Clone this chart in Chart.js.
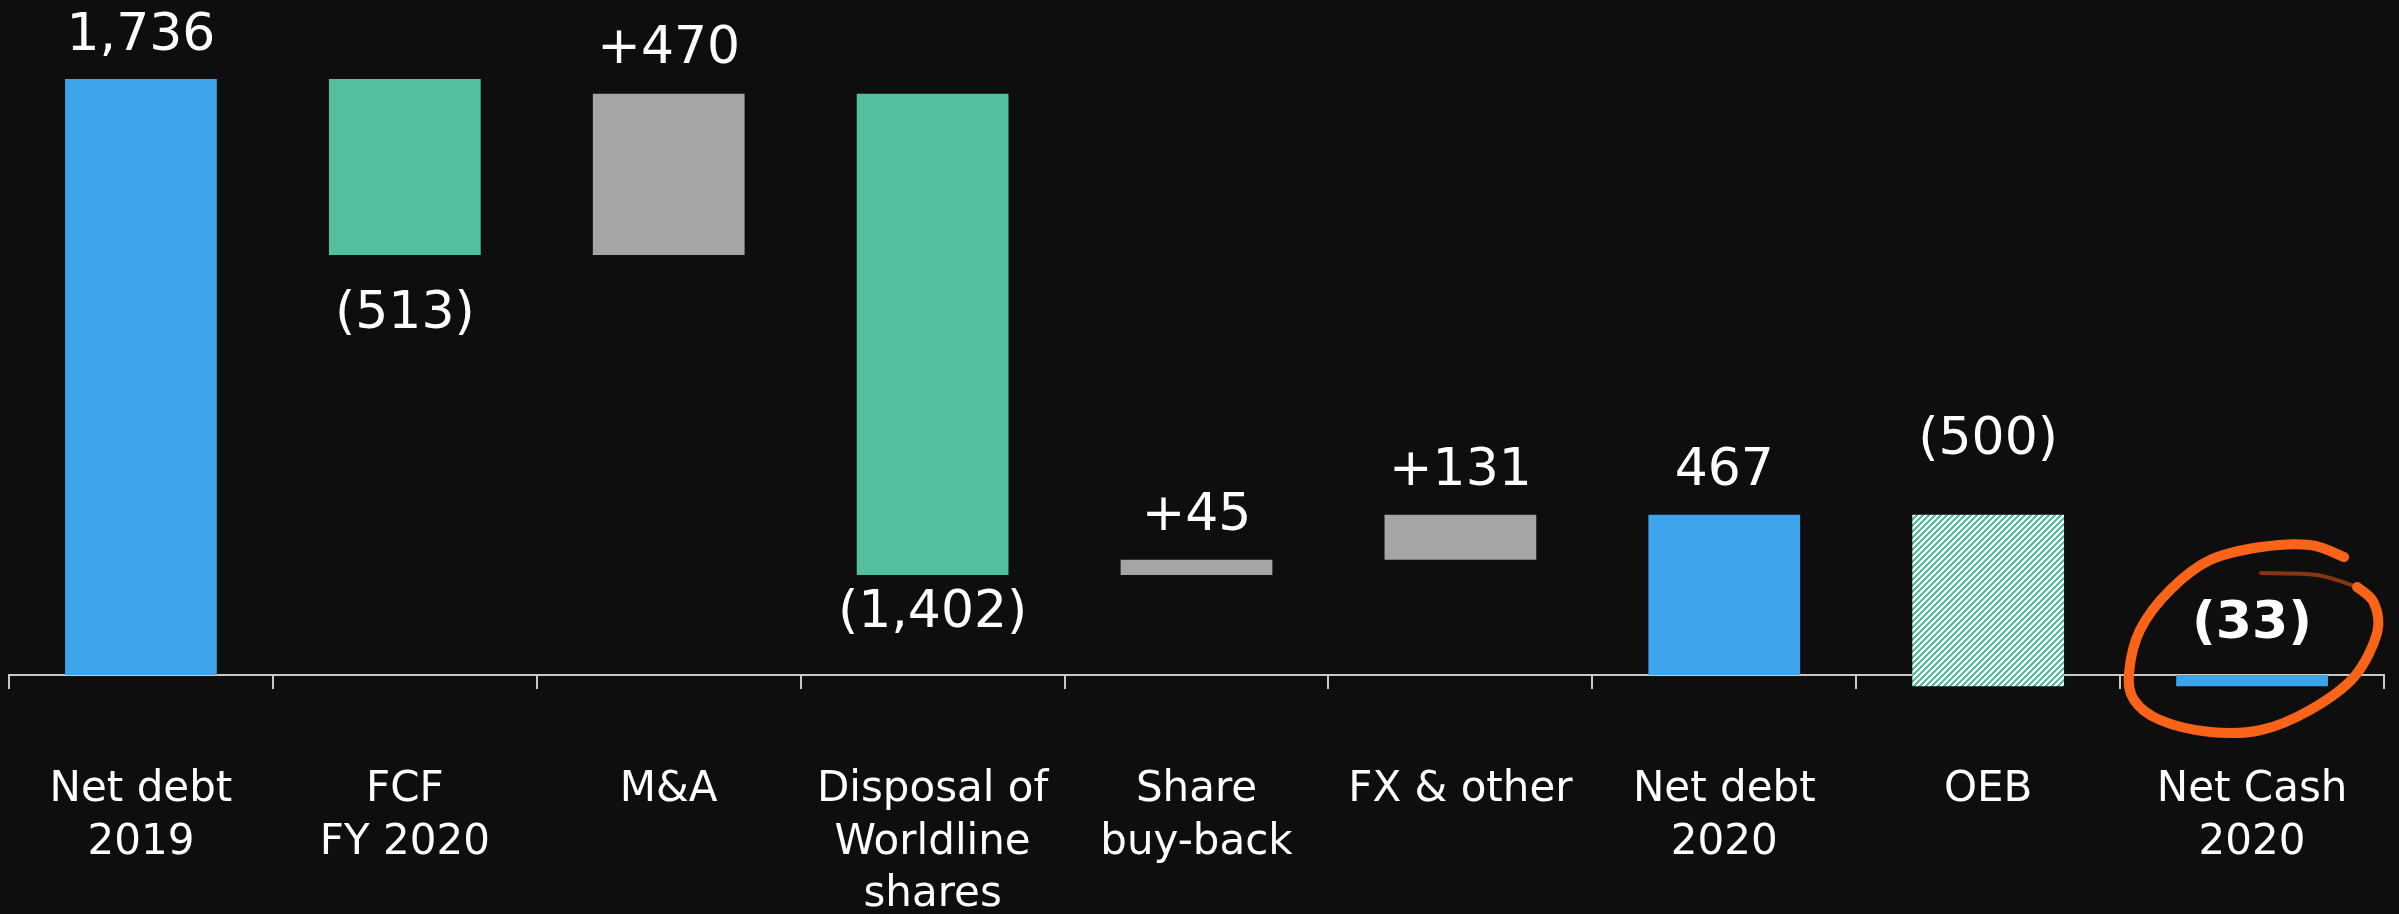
<!DOCTYPE html>
<html>
<head>
<meta charset="utf-8">
<script src="https://cdn.jsdelivr.net/npm/chart.js@4/dist/chart.umd.min.js"></script>
<style>
  html, body { margin: 0; padding: 0; background: #0e0e0e; }
  canvas { display: block; }
</style>
</head>
<body>
<canvas id="c" width="2399" height="914"></canvas>
<script>
// ---- data ----
const categories = [
  ['Net debt', '2019'],
  ['FCF', 'FY 2020'],
  ['M&A'],
  ['Disposal of', 'Worldline', 'shares'],
  ['Share', 'buy-back'],
  ['FX & other'],
  ['Net debt', '2020'],
  ['OEB'],
  ['Net Cash', '2020']
];
const barStarts = [0, 1736, 1223, 1693, 291, 336, 0, 467, 0];
const barEnds   = [1736, 1223, 1693, 291, 336, 467, 467, -33, -33];
const barKinds  = ['total', 'decrease', 'increase', 'decrease', 'increase', 'increase', 'total', 'pending', 'total'];
const valueLabels = ['1,736', '(513)', '+470', '(1,402)', '+45', '+131', '467', '(500)', '(33)'];

// ---- styles ----
const BG = '#0e0e0e';
const BLUE = '#3da4eb';
const GREEN = '#53bf9f';
const GREY = '#a5a5a5';
const AXIS = '#c8c8c8';
const FONT = "'DejaVu Sans', Verdana, sans-serif";

function hatchPattern() {
  const p = document.createElement('canvas');
  p.width = 6; p.height = 6;
  const g = p.getContext('2d');
  g.fillStyle = '#ffffff';
  g.fillRect(0, 0, 6, 6);
  g.fillStyle = GREEN;
  for (let x = 0; x < 6; x++) for (let y = 0; y < 6; y++) {
    if ((x + y) % 6 < 3) g.fillRect(x, y, 1, 1);
  }
  return g.createPattern(p, 'repeat');
}
const pattern = hatchPattern();
const kindColor = { total: BLUE, decrease: GREEN, increase: GREY, pending: pattern };

// label placement (style): side and baseline gap from bar edge
const labelSide = ['above', 'below', 'above', 'below', 'above', 'above', 'above', 'above', 'above'];
const labelGap  = [29, 73, 31, 52, 30, 30, 30, 61, 37];
const labelBold = [false, false, false, false, false, false, false, false, true];

const bgPlugin = {
  id: 'bg',
  beforeDraw(chart) {
    const ctx = chart.ctx;
    ctx.save();
    ctx.fillStyle = BG;
    ctx.fillRect(0, 0, chart.width, chart.height);
    ctx.restore();
  }
};

const labelPlugin = {
  id: 'valueLabels',
  afterDatasetsDraw(chart) {
    const ctx = chart.ctx;
    const meta = chart.getDatasetMeta(0);
    ctx.save();
    ctx.fillStyle = '#ffffff';
    ctx.textAlign = 'center';
    ctx.textBaseline = 'alphabetic';
    meta.data.forEach((bar, i) => {
      const top = Math.min(bar.y, bar.base);
      const bottom = Math.max(bar.y, bar.base);
      ctx.font = (labelBold[i] ? 'bold ' : '') + '52px ' + FONT;
      const y = labelSide[i] === 'above' ? top - labelGap[i] : bottom + labelGap[i];
      ctx.fillText(valueLabels[i], bar.x, y);
    });
    ctx.restore();
  }
};

// hand-drawn circle around last bar (annotation)
const circlePlugin = {
  id: 'circle',
  afterDraw(chart) {
    const meta = chart.getDatasetMeta(0);
    const last = meta.data[meta.data.length - 1];
    const cx = last.x;
    const cy = chart.scales.y.getPixelForValue(0);
    const main = [[92,-118],[58,-130],[9,-128],[-42,-115],[-82,-85],[-112,-45],[-123,-2],[-118,25],[-92,45],[-42,57],[9,55],[58,35],[102,2],[125,-42],[122,-72],[105,-88]];
    const trail = [[105,-88],[65,-100],[9,-102]];
    const ctx = chart.ctx;
    function smooth(pts) {
      const P = pts.map(p => [cx + p[0], cy + p[1]]);
      ctx.beginPath();
      ctx.moveTo(P[0][0], P[0][1]);
      for (let i = 0; i < P.length - 1; i++) {
        const p0 = P[i - 1] || P[i], p1 = P[i], p2 = P[i + 1], p3 = P[i + 2] || P[i + 1];
        const c1 = [p1[0] + (p2[0] - p0[0]) / 6, p1[1] + (p2[1] - p0[1]) / 6];
        const c2 = [p2[0] - (p3[0] - p1[0]) / 6, p2[1] - (p3[1] - p1[1]) / 6];
        ctx.bezierCurveTo(c1[0], c1[1], c2[0], c2[1], p2[0], p2[1]);
      }
    }
    ctx.save();
    ctx.lineCap = 'round';
    ctx.lineJoin = 'round';
    ctx.strokeStyle = 'rgba(150,62,18,0.85)';
    ctx.lineWidth = 4;
    smooth(trail);
    ctx.stroke();
    ctx.strokeStyle = '#fa6418';
    ctx.lineWidth = 10;
    smooth(main);
    ctx.stroke();
    ctx.restore();
  }
};

new Chart(document.getElementById('c'), {
  type: 'bar',
  data: {
    labels: categories,
    datasets: [{
      data: barStarts.map((s, i) => [s, barEnds[i]]),
      backgroundColor: barKinds.map(k => kindColor[k]),
      borderWidth: 0,
      barPercentage: 0.575,
      categoryPercentage: 1,
      clip: false
    }]
  },
  options: {
    responsive: false,
    devicePixelRatio: 1,
    animation: false,
    layout: { padding: { left: 9, right: 15, top: 0, bottom: 0 } },
    plugins: { legend: { display: false }, tooltip: { enabled: false } },
    scales: {
      x: {
        z: 1,
        offset: true,
        grid: { display: true, drawOnChartArea: false, drawTicks: true, tickLength: 14, color: AXIS, lineWidth: 2, offset: true },
        border: { display: true, color: AXIS, width: 2 },
        ticks: { color: '#ffffff', font: { family: FONT, size: 42, lineHeight: 1.25 }, padding: 75, maxRotation: 0, autoSkip: false },
        afterFit(scale) { scale.height = 239; scale.paddingLeft = 0; scale.paddingRight = 0; }
      },
      y: {
        display: false,
        min: 0,
        max: 1966
      }
    }
  },
  plugins: [bgPlugin, labelPlugin, circlePlugin]
});
</script>
</body>
</html>
